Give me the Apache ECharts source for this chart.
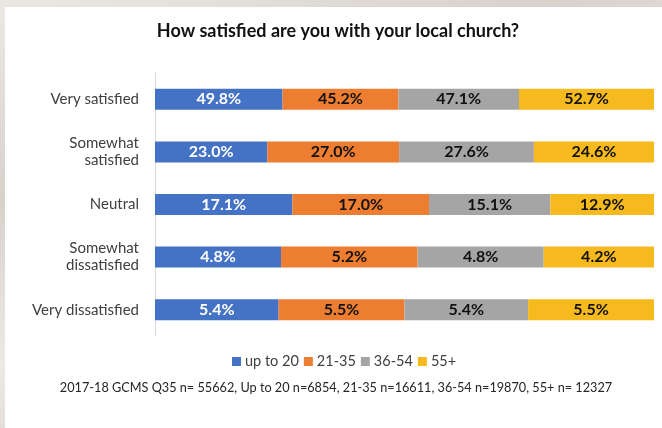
<!DOCTYPE html>
<html>
<head>
<meta charset="utf-8">
<script src="https://cdn.jsdelivr.net/npm/echarts@6/dist/echarts.min.js"></script>
<style>
  html, body { margin: 0; padding: 0; width: 662px; height: 428px; overflow: hidden; }
  body {
    background: linear-gradient(160deg, #ebe8e4 0%, #d8d2cb 30%, #ece9e5 55%, #d3ccc4 80%, #e6e2dd 100%);
    position: relative;
  }
  #panel { position: absolute; left: 5px; top: 7px; right: 0; bottom: 0; background: #ffffff; }
  #chart { position: absolute; left: 0; top: 0; width: 662px; height: 428px; }
</style>
</head>
<body>
<div id="panel"></div>
<div id="chart"></div>
<script>
// Survey responses by age group
const categories = ['Very satisfied', 'Somewhat\nsatisfied', 'Neutral', 'Somewhat\ndissatisfied', 'Very dissatisfied'];
const seriesNames = ['up to 20', '21-35', '36-54', '55+'];
const upTo20 = [49.8, 23.0, 17.1, 4.8, 5.4];
const age21to35 = [45.2, 27.0, 17.0, 5.2, 5.5];
const age36to54 = [47.1, 27.6, 15.1, 4.8, 5.4];
const age55plus = [52.7, 24.6, 12.9, 4.2, 5.5];
const colors = ['#4472C4', '#ED7D31', '#A5A5A5', '#F7BA1E'];
const labelColors = ['#ffffff', '#111111', '#111111', '#111111'];
const titleText = 'How satisfied are you with your local church?';
const footerText = '2017-18 GCMS Q35 n= 55662, Up to 20 n=6854, 21-35 n=16611, 36-54 n=19870, 55+ n= 12327';

const groups = [upTo20, age21to35, age36to54, age55plus];
// each bar fills 100%: segment length is the value's share of its row total
const rowTotals = categories.map((_, i) => groups.reduce((s, g) => s + g[i], 0));

const FONT = 'Lato, "Open Sans", sans-serif';

const chart = echarts.init(document.getElementById('chart'), null, { renderer: 'canvas' });

chart.setOption({
  backgroundColor: 'transparent',
  animation: false,
  grid: { left: 155, right: 8, top: 73, bottom: 92, containLabel: false },
  xAxis: { type: 'value', min: 0, max: 100, show: false },
  yAxis: {
    type: 'category',
    data: categories,
    inverse: true,
    axisLine: { show: true, lineStyle: { color: '#d9d9d9', width: 1 } },
    axisTick: { show: false },
    axisLabel: { margin: 16, color: '#404040', fontFamily: FONT, fontSize: 15, lineHeight: 17, align: 'right' }
  },
  legend: {
    data: seriesNames,
    left: 227, top: 349,
    itemWidth: 9, itemHeight: 9, itemGap: 5,
    icon: 'rect',
    textStyle: { color: '#404040', fontFamily: FONT, fontSize: 14.5, padding: [0, 0, 0, -1] }
  },
  graphic: [
    { type: 'text', x: 338, y: 31, style: { text: titleText, font: 'bold 18px ' + FONT, fill: '#111111', align: 'center', verticalAlign: 'middle' } },
    { type: 'text', x: 336, y: 388, style: { text: footerText, font: '12.7px ' + FONT, fill: '#262626', align: 'center', verticalAlign: 'middle' } }
  ],
  series: groups.map((g, k) => ({
    name: seriesNames[k],
    type: 'bar',
    stack: 'total',
    barWidth: 21,
    itemStyle: { color: colors[k] },
    label: {
      show: true,
      position: 'inside',
      color: labelColors[k],
      fontFamily: FONT,
      fontWeight: 'bold',
      fontSize: 16,
      formatter: p => g[p.dataIndex].toFixed(1) + '%'
    },
    data: g.map((v, i) => v / rowTotals[i] * 100)
  }))
});
</script>
</body>
</html>
